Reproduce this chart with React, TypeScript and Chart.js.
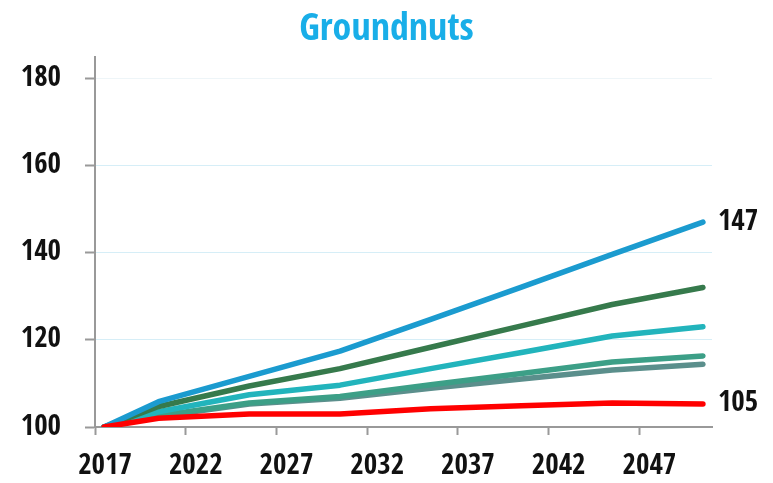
import React, { useEffect, useRef } from "react";
import { Chart, registerables } from "chart.js";

Chart.register(...registerables);

const title = "Groundnuts";
const sampleYears = [2017, 2020, 2025, 2030, 2035, 2040, 2045, 2050];
const tickYears = [2017, 2022, 2027, 2032, 2037, 2042, 2047];
const yTicks = [100, 120, 140, 160, 180];

const redSeries = [100, 102.0, 103.0, 103.0, 104.2, 104.9, 105.5, 105.3];
const blueSeries = [100, 105.8, 111.6, 117.4, 124.7, 132.1, 139.6, 147.0];
const darkGreenSeries = [100, 104.7, 109.4, 113.4, 118.3, 123.2, 128.1, 132.0];
const tealSeries = [100, 103.5, 107.4, 109.6, 113.4, 117.1, 120.9, 123.0];
const seaGreenSeries = [100, 102.6, 105.5, 107.0, 109.7, 112.3, 114.9, 116.3];
const slateSeries = [100, 102.4, 105.3, 106.6, 108.9, 111.0, 113.1, 114.4];

const endLabels = { blue: "147", red: "105" };

const FONT = "'Open Sans Condensed', 'Roboto Condensed', 'DejaVu Sans Condensed', sans-serif";

const toPoints = (vals: number[]) => sampleYears.map((x, i) => ({ x, y: vals[i] }));

const endLabelPlugin = {
  id: "endLabels",
  afterDatasetsDraw(chart: any) {
    const ctx = chart.ctx;
    ctx.save();
    ctx.font = `bold 29px ${FONT}`;
    ctx.fillStyle = "#111";
    ctx.textAlign = "left";
    ctx.textBaseline = "middle";
    chart.data.datasets.forEach((ds: any, i: number) => {
      if (!ds.endLabel) return;
      const meta = chart.getDatasetMeta(i);
      const pt = meta.data[meta.data.length - 1];
      if (!pt) return;
      ctx.fillText(ds.endLabel, pt.x + 15, pt.y);
    });
    ctx.restore();
  },
};

export default function App() {
  const ref = useRef<HTMLCanvasElement | null>(null);

  useEffect(() => {
    document.body.style.margin = "0";
    const canvas = ref.current;
    if (!canvas) return;
    const line = (vals: number[], color: string, extra: any = {}) => ({
      data: toPoints(vals),
      borderColor: color,
      backgroundColor: color,
      borderWidth: 5.5,
      borderCapStyle: "round",
      borderJoinStyle: "round",
      pointRadius: 0,
      tension: 0,
      ...extra,
    });
    const chart = new Chart(canvas, {
      type: "line",
      data: {
        datasets: [
          line(redSeries, "#ff0000", { endLabel: endLabels.red }),
          line(blueSeries, "#1b9bcf", { endLabel: endLabels.blue }),
          line(darkGreenSeries, "#367a4c"),
          line(tealSeries, "#22b4bc"),
          line(seaGreenSeries, "#3c9f87"),
          line(slateSeries, "#5b8f8c"),
        ] as any,
      },
      options: {
        animation: false,
        responsive: false,
        events: [],
        layout: { padding: 0 },
        plugins: {
          legend: { display: false },
          tooltip: { enabled: false },
          title: {
            display: true,
            text: title,
            color: "#19aee8",
            font: { family: FONT, size: 38, weight: "bold" },
            padding: { top: 7, bottom: 4 },
          },
        },
        scales: {
          x: {
            type: "linear",
            min: 2016.5,
            max: 2050.5,
            border: { color: "#999", width: 2 },
            grid: {
              drawOnChartArea: false,
              tickLength: 8,
              tickWidth: 2,
              tickColor: "#999",
            },
            afterBuildTicks: (s: any) => {
              s.ticks = tickYears.map((y) => ({ value: y - 0.5 }));
            },
            ticks: {
              autoSkip: false,
              maxRotation: 0,
              padding: 14,
              labelOffset: 10,
              color: "#111",
              font: { family: FONT, size: 29, weight: "bold" },
              callback: (v: any) => String(Number(v) + 0.5),
            },
            afterFit: (s: any) => {
              s.height = 56;
            },
          },
          y: {
            min: 100,
            max: 185,
            border: { color: "#999", width: 2 },
            grid: {
              color: (c: any) => (c.tick && c.tick.value === 180 ? "#eef5f8" : "#d6eef7"),
              lineWidth: 1,
              tickLength: 10,
              tickWidth: 2,
              tickColor: "#999",
            },
            afterBuildTicks: (s: any) => {
              s.ticks = yTicks.map((v) => ({ value: v }));
            },
            ticks: {
              padding: 24,
              color: "#111",
              font: { family: FONT, size: 29, weight: "bold" },
              callback: (v: any) => String(v),
            },
            afterFit: (s: any) => {
              s.width = 95;
            },
          },
          yRight: {
            type: "linear",
            position: "right",
            display: true,
            ticks: { display: false },
            grid: { display: false },
            border: { display: false },
            afterFit: (s: any) => {
              s.width = 61;
            },
          },
        },
      },
      plugins: [endLabelPlugin],
    } as any);
    return () => chart.destroy();
  }, []);

  return (
    <div style={{ position: "absolute", left: 0, top: 0, width: 773, height: 483 }}>
      <canvas ref={ref} width={773} height={483} style={{ display: "block" }} />
    </div>
  );
}
